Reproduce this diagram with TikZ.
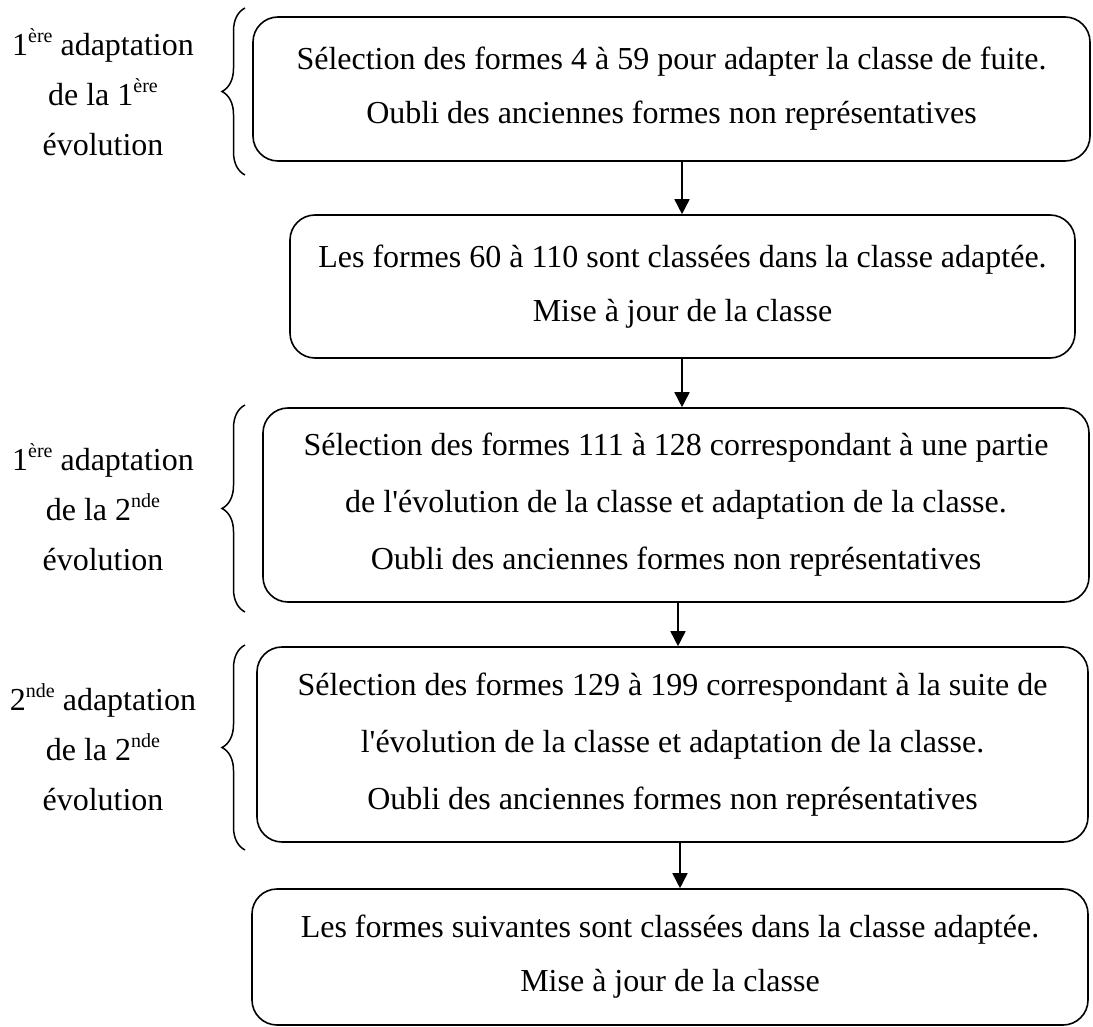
\documentclass[tikz,border=0pt]{standalone}
\usepackage{fontspec}
\setmainfont{Liberation Serif}
\usetikzlibrary{arrows.meta,decorations.pathreplacing}
\newcommand{\mysup}[1]{\raisebox{13pt}{\fontsize{20}{20}\selectfont #1}}
\begin{document}
\begin{tikzpicture}[x=1pt,y=-1pt,
  boxnode/.style={draw,line width=1.6pt,rounded corners=25pt,align=center,
    inner sep=0pt,font=\fontsize{32}{54}\selectfont},
  lab/.style={align=center,inner sep=0pt,font=\fontsize{32}{50}\selectfont},
  arr/.style={line width=1.6pt,-{Triangle[width=15pt,length=15pt]}},
  brc/.style={line width=1.5pt,decorate,decoration={brace,amplitude=23pt}}]
\useasboundingbox (0,0) rectangle (1093,1027);
\node[boxnode,minimum width=837pt,minimum height=144pt] (b1) at (671.5,89)
  {Sélection des formes 4 à 59 pour adapter la classe de fuite.\\Oubli des anciennes formes non représentatives};
\node[boxnode,minimum width=785pt,minimum height=143pt] (b2) at (682.5,286.5)
  {Les formes 60 à 110 sont classées dans la classe adaptée.\\Mise à jour de la classe};
\node[boxnode,minimum width=826pt,minimum height=194pt,font=\fontsize{32}{57}\selectfont] (b3) at (676,505)
  {Sélection des formes 111 à 128 correspondant à une partie\\de l\textquotesingle évolution de la classe et adaptation de la classe.\\Oubli des anciennes formes non représentatives};
\node[boxnode,minimum width=831pt,minimum height=195pt,font=\fontsize{32}{57}\selectfont] (b4) at (672.5,744.5)
  {Sélection des formes 129 à 199 correspondant à la suite de\\l\textquotesingle évolution de la classe et adaptation de la classe.\\Oubli des anciennes formes non représentatives};
\node[boxnode,minimum width=836pt,minimum height=136pt] (b5) at (670,957)
  {Les formes suivantes sont classées dans la classe adaptée.\\Mise à jour de la classe};
\draw[arr] (b1.south -| 682,0) -- (b2.north -| 682,0);
\draw[arr] (b2.south -| 682,0) -- (b3.north -| 682,0);
\draw[arr] (b3.south -| 678,0) -- (b4.north -| 678,0);
\draw[arr] (b4.south -| 680,0) -- (b5.north -| 680,0);
\node[lab] (l1) at (103,92) {1\mysup{ère} adaptation\\de la 1\mysup{ère}\\évolution};
\node[lab] (l2) at (103,507) {1\mysup{ère} adaptation\\de la 2\mysup{nde}\\évolution};
\node[lab] (l3) at (103,747) {2\mysup{nde} adaptation\\de la 2\mysup{nde}\\évolution};
\coordinate (c1b) at (245,175); \coordinate (c1t) at (245,8);
\coordinate (c2b) at (245,612); \coordinate (c2t) at (245,405);
\coordinate (c3b) at (245,850); \coordinate (c3t) at (245,645);
\draw[brc] (c1b) -- (c1t);
\draw[brc] (c2b) -- (c2t);
\draw[brc] (c3b) -- (c3t);
\end{tikzpicture}
\end{document}
